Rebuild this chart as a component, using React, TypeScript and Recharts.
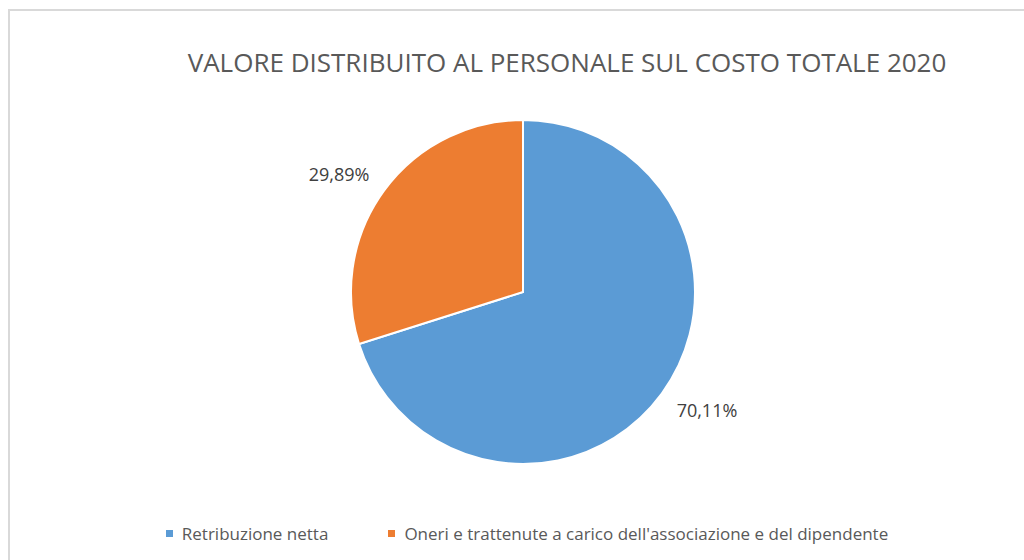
import React from 'react';
import { PieChart, Pie, Cell, Legend } from 'recharts';

const categories = ['Retribuzione netta', "Oneri e trattenute a carico dell'associazione e del dipendente"];
const shares = [70.11, 29.89];
const colors = ['#5B9BD5', '#ED7D31'];

const data = categories.map((name, i) => ({ name, value: shares[i] }));

const RADIAN = Math.PI / 180;

const renderLabel = (props: any) => {
  const { cx, cy, midAngle, outerRadius, percent } = props;
  const x = cx + (outerRadius + 56) * Math.cos(-midAngle * RADIAN);
  const y = cy + (outerRadius + 28) * Math.sin(-midAngle * RADIAN);
  return (
    <text
      x={x}
      y={y}
      textAnchor="middle"
      dominantBaseline="central"
      fill="#404040"
      fontSize={18}
      fontFamily="'Open Sans', sans-serif"
    >
      {`${(percent * 100).toFixed(2).replace('.', ',')}%`}
    </text>
  );
};

const renderLegend = () => (
  <div
    style={{
      display: 'flex',
      justifyContent: 'center',
      gap: 60,
      fontFamily: "'Open Sans', sans-serif",
      fontSize: 17,
      color: '#595959',
      marginLeft: 20,
    }}
  >
    {categories.map((c, i) => (
      <div key={c} style={{ display: 'flex', alignItems: 'center' }}>
        <span style={{ width: 7, height: 7, background: colors[i], marginRight: 9, display: 'inline-block' }} />
        <span>{c}</span>
      </div>
    ))}
  </div>
);

const App: React.FC = () => {
  return (
    <div
      style={{
        position: 'absolute',
        left: 8,
        top: 9,
        width: 1016,
        height: 551,
        boxSizing: 'border-box',
        borderTop: '2px solid #d9d9d9',
        borderLeft: '2px solid #d9d9d9',
        background: '#fff',
        overflow: 'hidden',
      }}
    >
      <div
        style={{
          position: 'absolute',
          left: 0,
          width: 1114,
          top: 33,
          textAlign: 'center',
          fontFamily: "'Open Sans', sans-serif",
          fontSize: 26,
          color: '#595959',
          whiteSpace: 'nowrap',
        }}
      >
        VALORE DISTRIBUITO AL PERSONALE SUL COSTO TOTALE 2020
      </div>
      <PieChart
        width={1014}
        height={549}
        margin={{ top: 0, right: 0, bottom: 0, left: 0 }}
        style={{ position: 'absolute', left: 0, top: 0 }}
      >
        <Pie
          data={data}
          dataKey="value"
          nameKey="name"
          cx={513}
          cy={281}
          outerRadius={172}
          startAngle={90}
          endAngle={-270}
          stroke="#ffffff"
          strokeWidth={2}
          label={renderLabel}
          labelLine={false}
          isAnimationActive={false}
        >
          {data.map((d, i) => (
            <Cell key={d.name} fill={colors[i]} />
          ))}
        </Pie>
        <Legend
          content={renderLegend}
          verticalAlign="bottom"
          wrapperStyle={{ bottom: 15 }}
        />
      </PieChart>
    </div>
  );
};

export default App;
